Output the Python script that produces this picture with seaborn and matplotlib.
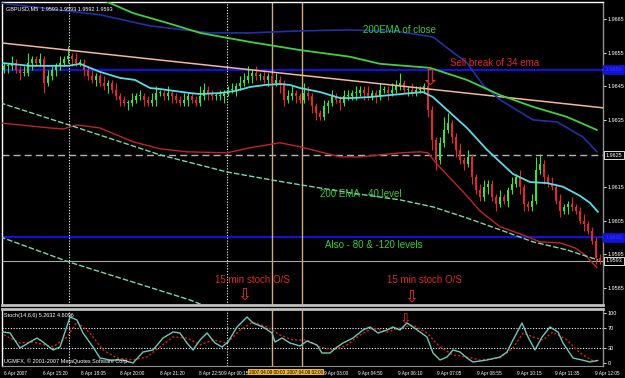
import numpy as np
import pandas as pd
import matplotlib
matplotlib.use("Agg")
import matplotlib.pyplot as plt
import seaborn as sns

sns.set_style("dark", {"axes.facecolor": "black", "figure.facecolor": "black"})
plt.rcParams['font.family'] = ['Liberation Sans', 'DejaVu Sans']

# ---------------- data ----------------
first_open = 1.9650
closes = [
    1.9651, 1.9651, 1.9652, 1.9650, 1.9649, 1.9649, 1.9652, 1.9653, 1.9652, 1.9653,
    1.9646, 1.9648, 1.9650, 1.9651, 1.9652, 1.9653, 1.9654, 1.9653, 1.9652, 1.9652,
    1.9650, 1.9648, 1.9647, 1.9648, 1.9646, 1.9645, 1.9646, 1.9644, 1.9642, 1.9641,
    1.9640, 1.9640, 1.9641, 1.9642, 1.9642, 1.9641, 1.9640, 1.9641, 1.9643, 1.9643,
    1.9642, 1.9643, 1.9642, 1.9641, 1.9640, 1.9641, 1.9642, 1.9641, 1.9640, 1.9642,
    1.9644, 1.9643, 1.9642, 1.9642, 1.9642, 1.9643, 1.9644, 1.9644, 1.9645, 1.9646,
    1.9647, 1.9648, 1.9649, 1.9648, 1.9648, 1.9647, 1.9648, 1.9646, 1.9647, 1.9646,
    1.9641, 1.9642, 1.9643, 1.9642, 1.9641, 1.9643, 1.9642, 1.9639, 1.9637, 1.9636,
    1.9639, 1.9640, 1.9642, 1.9641, 1.9640, 1.9642, 1.9642, 1.9643, 1.9643, 1.9644,
    1.9643, 1.9642, 1.9643, 1.9642, 1.9644, 1.9644, 1.9643, 1.9644, 1.9645, 1.9646,
    1.9644, 1.9644, 1.9643, 1.9644, 1.9644, 1.9645, 1.9638, 1.9629, 1.9623, 1.9628,
    1.9632, 1.9634, 1.9630, 1.9626, 1.9623, 1.9622, 1.9624, 1.9618, 1.9614, 1.9612,
    1.9615, 1.9616, 1.9612, 1.9610, 1.9612, 1.9611, 1.9614, 1.9616, 1.9618, 1.9615,
    1.9610, 1.9609, 1.9611, 1.9620, 1.9622, 1.9618, 1.9616, 1.9615, 1.9611, 1.9608,
    1.9609, 1.9610, 1.9609, 1.9608, 1.9605, 1.9604, 1.9602, 1.9599, 1.9594, 1.9593]
upper_wick_pips = [
    1, 1, 2, 1, 1, 2, 3, 1, 1, 2, 1, 2, 1, 1, 2, 1, 3, 1, 2, 1,
    1, 1, 2, 1, 1, 2, 1, 1, 2, 1, 1, 1, 2, 1, 2, 1, 1, 2, 2, 1,
    1, 2, 1, 1, 1, 2, 1, 1, 1, 3, 2, 1, 1, 1, 2, 1, 1, 2, 1, 2,
    2, 3, 1, 2, 1, 2, 1, 1, 2, 1, 1, 2, 2, 1, 1, 3, 2, 1, 1, 1,
    2, 1, 2, 1, 1, 2, 2, 1, 2, 1, 1, 2, 1, 1, 2, 1, 1, 2, 2, 3,
    1, 1, 2, 1, 1, 1, 2, 1, 1, 2, 4, 3, 1, 1, 2, 1, 2, 1, 1, 2,
    2, 1, 1, 1, 2, 1, 1, 2, 1, 2, 1, 1, 2, 4, 3, 1, 1, 2, 1, 2,
    1, 1, 2, 1, 1, 2, 1, 1, 1, 1]
lower_wick_pips = [
    1, 2, 1, 1, 2, 1, 1, 2, 1, 1, 3, 1, 1, 2, 1, 1, 1, 2, 1, 1,
    2, 1, 1, 2, 1, 1, 2, 1, 1, 2, 1, 2, 1, 1, 1, 2, 1, 1, 2, 1,
    1, 1, 2, 1, 1, 1, 2, 1, 1, 1, 1, 2, 1, 1, 1, 2, 1, 1, 2, 1,
    1, 1, 2, 1, 1, 1, 2, 1, 1, 3, 2, 1, 1, 2, 1, 1, 1, 2, 2, 1,
    1, 2, 1, 1, 2, 1, 1, 1, 2, 1, 2, 1, 1, 2, 1, 1, 2, 1, 1, 1,
    1, 2, 1, 1, 1, 1, 2, 3, 3, 1, 1, 1, 2, 2, 1, 2, 1, 2, 1, 1,
    1, 2, 1, 2, 1, 1, 2, 1, 1, 2, 2, 1, 1, 1, 1, 2, 1, 1, 1, 2,
    1, 2, 1, 1, 1, 2, 1, 1, 2, 1]

# 34 EMA (cyan)
ema34_bar = [-1, 6.5, 16, 19, 21.5, 24, 29, 32.75, 36.5, 39, 42.75, 46.5, 49, 54, 57.75,
             61.5, 65.25, 69, 71.5, 74, 79, 84, 86.5, 91.5, 96.5, 104.75, 107.25, 110.75,
             115.75, 120.75, 124, 127.25, 131.5, 135.75, 139.75, 144, 146.5, 148.5]
ema34_val = [1.96520, 1.96511, 1.96511, 1.96517, 1.96505, 1.96493, 1.96475, 1.96469, 1.96445,
             1.96442, 1.96436, 1.96430, 1.96427, 1.96430, 1.96436, 1.96448, 1.96454, 1.96457,
             1.96454, 1.96445, 1.96433, 1.96415, 1.96415, 1.96418, 1.96424, 1.96433, 1.96418,
             1.96380, 1.96326, 1.96261, 1.96225, 1.96189, 1.96165, 1.96162, 1.96151, 1.96124,
             1.96103, 1.96076]
# 200 EMA of close (green)
ema200_bar = [-1, 16.5, 24.75, 32.25, 40.75, 49, 61.5, 74, 86.5, 94, 106.5, 115.75, 124,
              132.25, 140.75, 148.25]
ema200_val = [1.96841, 1.96743, 1.96707, 1.96668, 1.96639, 1.96609, 1.96582, 1.96558,
              1.96538, 1.96517, 1.96505, 1.96469, 1.96424, 1.96389, 1.96359, 1.96320]
# dark blue curve
blue_bar = [-1, 9.75, 24, 36.5, 51.5, 61.5, 74, 86.5, 99, 107.25, 111.5, 115.75, 119.75,
            124, 132.25, 138.25, 144.75, 148.25]
blue_val = [1.96698, 1.96683, 1.96663, 1.96630, 1.96609, 1.96609, 1.96615, 1.96618, 1.96612,
            1.96597, 1.96558, 1.96520, 1.96454, 1.96410, 1.96350, 1.96344, 1.96299, 1.96255]
# red envelope
red_bar = [-1, 11.5, 14.75, 18.25, 24, 32.25, 39, 45.75, 55.75, 61.5, 69, 74, 79, 84, 89,
           94, 99, 104, 106, 107.75, 111.5, 115.25, 119, 124, 129, 134, 139, 142.75, 145.25,
           148.25]
red_val = [1.96341, 1.96326, 1.96323, 1.96335, 1.96326, 1.96285, 1.96264, 1.96255, 1.96252,
           1.96267, 1.96282, 1.96270, 1.96255, 1.96240, 1.96240, 1.96246, 1.96252, 1.96255,
           1.96252, 1.96225, 1.96177, 1.96130, 1.96079, 1.96032, 1.96011, 1.95987, 1.95984,
           1.95969, 1.95948, 1.95910]
# 200 EMA -40 level (green dashed)
lvl40_bar = [-1, 16.25, 39, 55.75, 67, 74, 86.5, 99, 107.25, 115.75, 124, 132.25, 140.75, 148.5]
lvl40_val = [1.96401, 1.96335, 1.96246, 1.96195, 1.96171, 1.96157, 1.96133, 1.96112,
             1.96091, 1.96058, 1.96023, 1.95987, 1.95963, 1.95933]
# lower level (green dashed)
lvl80_bar = [-1, 16.25, 46.5, 52.75]
lvl80_val = [1.96002, 1.95927, 1.95814, 1.95784]
# trend line
trend_bar = [-0.5, 149.75]
trend_val = [1.96579, 1.96386]

h_blue = [1.9650, 1.9600]
h_dash = 1.96245
h_last = 1.9593
v_dotted = [16.25, 55.75]
v_tan = [67, 74.5]

price_ticks = [1.9665, 1.9655, 1.9645, 1.9635, 1.9615, 1.9605, 1.9595, 1.9585]

# stochastic
stoch_bar = [-1, 1.5, 4, 6.5, 8.25, 9.75, 12.25, 14, 16.5, 18.25, 19.75, 22.25, 24, 26.5,
             29.75, 32.25, 34.75, 37.25, 39.75, 42.25, 44, 45.75, 47.25, 49, 50.75, 52.75,
             54.5, 56, 58.25, 60.75, 62.25, 64.75, 67, 67.75, 69.5, 71.5, 74, 75.75, 78.25,
             79.5, 81.5, 83.25, 84.75, 87.25, 89.75, 91.5, 93.5, 95.75, 97.25, 99, 100.75,
             102.25, 105.75, 107.25, 109, 110.75, 112.25, 114, 115.75, 117.25, 120.75, 124,
             125.75, 127.25, 129.5, 131, 132.75, 134.5, 136.5, 138.5, 139.75, 142.25, 144.5,
             146.5, 148.5]
stoch_main = [63, 60, 30, 42, 50, 42, 26, 32, 92, 86, 60, 32, 10, 6, 6, 0, 22, 26, 50, 62,
              60, 40, 26, 46, 60, 40, 32, 42, 72, 92, 80, 72, 60, 42, 50, 40, 34, 44, 36, 20,
              20, 32, 40, 50, 66, 72, 60, 66, 72, 66, 80, 72, 52, 20, 6, 12, 26, 22, 10, 2,
              6, 12, 22, 46, 80, 52, 26, 52, 72, 62, 40, 10, 6, 2, 5.3]
sig_bar = [-1, 4, 7.25, 12.25, 15.75, 18.25, 21.5, 24.75, 28.25, 32.25, 35.75, 39, 42.25,
           45.75, 49, 52.25, 55.75, 59, 62.25, 65.75, 69, 72.25, 75.75, 79, 82.25, 85.75, 89,
           92.25, 95.75, 99, 102.25, 105.75, 109, 112.25, 115.75, 119, 124, 127.25, 129.75,
           132.25, 134.75, 137.25, 140.75, 144, 147.25, 148.5]
stoch_signal = [60, 40, 42, 32, 52, 82, 60, 26, 10, 6, 12, 32, 52, 50, 36, 46, 40, 66, 82,
                72, 56, 46, 46, 32, 26, 36, 56, 70, 62, 70, 76, 60, 32, 16, 12, 6, 10, 30,
                60, 52, 46, 62, 46, 20, 4, 4.6]
stoch_levels = [70, 30]
stoch_ticks = [100, 70, 30, 0]

time_tick_bar = [0, 9.75, 19.25, 29, 39, 48.75, 55, 80, 88.5, 98.5, 108.25, 118.25,
                 128.25, 137.75, 147.75]
time_labels = ["6 Apr 2007", "6 Apr 15:20", "8 Apr 18:05", "8 Apr 20:00", "8 Apr 21:20",
               "8 Apr 22:50", "9 Apr 00:15", "9 Apr 03:00", "9 Apr 04:50", "9 Apr 06:10",
               "9 Apr 07:05", "9 Apr 08:55", "9 Apr 10:15", "9 Apr 11:35", "9 Apr 12:05"]
vline_labels = ["2007.04.09 00:00", "2007.04.09 02:00"]

# ---------------- figure ----------------
W, H = 625, 378
fig = plt.figure(figsize=(W / 100, H / 100), dpi=100, facecolor="black")
ax = fig.add_axes([2 / W, 1 - 305 / H, 601 / W, 303 / H])
ax2 = fig.add_axes([2 / W, 1 - 366 / H, 601 / W, 57 / H])
for a in (ax, ax2):
    a.set_facecolor("black")
    a.grid(False)
    a.set_xlim(-0.5, 149.75)

ax.set_ylim(1.95799, 1.96701)
ax2.set_ylim(-6, 108)

# candles
pip = 0.0001
c = np.array(closes)
o = np.r_[first_open, c[:-1]]
hi = np.maximum(o, c) + np.array(upper_wick_pips) * pip
lo = np.minimum(o, c) - np.array(lower_wick_pips) * pip
xb = np.arange(len(c))
up = c >= o
col = np.where(up, "#3ee03e", "#e02a2a")
ax.vlines(xb, lo, hi, colors=col, lw=0.8, zorder=3)
body_h = np.maximum(np.abs(c - o), 0.00003)
ax.bar(xb, body_h, bottom=np.minimum(o, c), width=0.7, color=col, lw=0, zorder=4)

# horizontal / vertical reference lines
for hb in h_blue:
    ax.axhline(hb, color="#1010e0", lw=1.5, zorder=2)
ax.axhline(h_dash, color="#b4b4b4", lw=1.0, ls=(0, (5, 3)), zorder=2)
ax.axhline(h_last, color="#a8a8a8", lw=0.8, zorder=2)
for a in (ax, ax2):
    for v in v_dotted:
        a.axvline(v, color="white", lw=0.8, ls=(0, (1, 1.5)), zorder=2)
    for v in v_tan:
        a.axvline(v, color="#d2a878", lw=1.0, zorder=2)

# indicator lines via seaborn
sns.lineplot(x=trend_bar, y=trend_val, ax=ax, color="#f2b898", lw=1.1, zorder=5)
sns.lineplot(x=blue_bar, y=blue_val, ax=ax, color="#2030a8", lw=1.2, zorder=5)
sns.lineplot(x=ema200_bar, y=ema200_val, ax=ax, color="#40d040", lw=1.3, zorder=5)
sns.lineplot(x=red_bar, y=red_val, ax=ax, color="#c02428", lw=1.0, zorder=5)
sns.lineplot(x=lvl40_bar, y=lvl40_val, ax=ax, color="#78d8a8", lw=1.0,
             linestyle=(0, (4, 1.5)), zorder=5)
sns.lineplot(x=lvl80_bar, y=lvl80_val, ax=ax, color="#78d8a8", lw=1.0,
             linestyle=(0, (4, 1.5)), zorder=5)
sns.lineplot(x=ema34_bar, y=ema34_val, ax=ax, color="#58dce8", lw=1.3, zorder=6)

# stochastic panel
for lv in stoch_levels:
    ax2.axhline(lv, color="white", lw=0.8, ls=(0, (1, 1.5)), zorder=2)
sns.lineplot(x=sig_bar, y=stoch_signal, ax=ax2, color="#e02020", lw=1.0,
             linestyle=(0, (1.5, 1.5)), zorder=4)
sns.lineplot(x=stoch_bar, y=stoch_main, ax=ax2, color="#6cc8b8", lw=1.0, zorder=5)

# axes styling
for a in (ax, ax2):
    a.set_xlabel("")
    a.set_ylabel("")
    a.yaxis.tick_right()
    a.tick_params(axis="y", colors="white", labelsize=4, length=2, width=0.6, pad=1.5,
                  direction="out")
    for s in a.spines.values():
        s.set_visible(True)
    a.spines["left"].set_color("white")
    a.spines["left"].set_linewidth(1.0)
    a.spines["right"].set_color("#909090")
    a.spines["right"].set_linewidth(1.0)
ax.spines["top"].set_color("white")
ax.spines["top"].set_linewidth(1.0)
ax.spines["bottom"].set_color("#c0c0c0")
ax.spines["bottom"].set_linewidth(2.0)
ax2.spines["top"].set_color("#c0c0c0")
ax2.spines["top"].set_linewidth(2.0)
ax2.spines["bottom"].set_color("#909090")
ax2.spines["bottom"].set_linewidth(0.8)

ax.set_yticks(price_ticks)
ax.set_yticklabels([f"{p:.4f}" for p in price_ticks])
ax.set_xticks([])
ax2.set_yticks(stoch_ticks)
ax2.set_yticklabels([str(t) for t in stoch_ticks])
ax2.set_xticks(time_tick_bar)
ax2.set_xticklabels(time_labels, ha="left")
ax2.tick_params(axis="x", colors="white", labelsize=3.4, length=2, width=0.6, pad=1.5)
for lab in ax2.get_xticklabels():
    lab.set_color("white")
ax2.tick_params(axis="x", color="#909090")

# price boxes on the right axis
ytr = ax.get_yaxis_transform()
for hb in h_blue:
    ax.text(1.004, hb, f"{hb:.4f}", transform=ytr, fontsize=4, color="#3535ff",
            va="center", ha="left",
            bbox=dict(boxstyle="square,pad=0.35", fc="#1212d8", ec="#1212d8", lw=0.5))
ax.text(1.004, h_dash, "1.9625", transform=ytr, fontsize=4, color="white", va="center",
        ha="left", bbox=dict(boxstyle="square,pad=0.3", fc="black", ec="white", lw=0.6))
ax.text(1.004, h_last, f"{h_last:.4f}", transform=ytr, fontsize=4, color="white",
        va="center", ha="left",
        bbox=dict(boxstyle="square,pad=0.3", fc="black", ec="white", lw=0.6))

# annotations
green_txt = "#3ccc3c"
red_txt = "#e02828"
ax.text(89.75, 1.96618, "200EMA of close", color=green_txt, fontsize=7, va="center",
        ha="left", zorder=8)
ax.text(111.5, 1.96520, "Sell break of 34 ema", color=red_txt, fontsize=7, va="center",
        ha="left", zorder=8)
ax.text(79, 1.96130, "200 EMA - 40 level", color=green_txt, fontsize=7, va="center",
        ha="left", zorder=8)
ax.text(80.25, 1.95978, "Also - 80 & -120 levels", color=green_txt, fontsize=7,
        va="center", ha="left", zorder=8)
ax.text(52.75, 1.95874, "15 min stoch O/S", color=red_txt, fontsize=7, va="center",
        ha="left", zorder=8)
ax.text(95.75, 1.95874, "15 min stoch O/S", color=red_txt, fontsize=7, va="center",
        ha="left", zorder=8)
arrow_kw = dict(color="#e83030", ha="center", va="center", zorder=9,
                family=["DejaVu Sans"])
ax.text(106.5, 1.96472, "\u21e9", fontsize=16, **arrow_kw)
ax.text(60, 1.95829, "\u21e9", fontsize=12, **arrow_kw)
ax.text(101.75, 1.95823, "\u21e9", fontsize=12, **arrow_kw)
ax2.text(100.25, 90, "\u21e9", fontsize=10, **arrow_kw)

ax.text(0.006, 0.985, "GBPUSD,M5  1.9593 1.9593 1.9592 1.9593", transform=ax.transAxes,
        color="white", fontsize=4, va="top", ha="left", zorder=9)
ax2.text(0.004, 0.93, "Stoch(14,6,6) 5.2632 4.6096", transform=ax2.transAxes,
         color="white", fontsize=4, va="top", ha="left", zorder=9)
ax2.text(0.004, 0.04, "UGMFX, \u00a9 2001-2007 MetaQuotes Software Corp.",
         transform=ax2.transAxes, color="white", fontsize=4, va="bottom", ha="left", zorder=9)

# vertical-line time boxes at the bottom
yb = 1 - 372 / H
fig.text(249 / W, yb, vline_labels[0], fontsize=3.4, color="black", ha="left",
         va="center", zorder=11,
         bbox=dict(boxstyle="square,pad=0.2", fc="#f0b428", ec="#f0b428", lw=0))
fig.text(287 / W, yb, vline_labels[1], fontsize=3.4, color="black", ha="left",
         va="center", zorder=10,
         bbox=dict(boxstyle="square,pad=0.2", fc="#f0b428", ec="#f0b428", lw=0))

fig.savefig("out.png", dpi=100, facecolor="black")
